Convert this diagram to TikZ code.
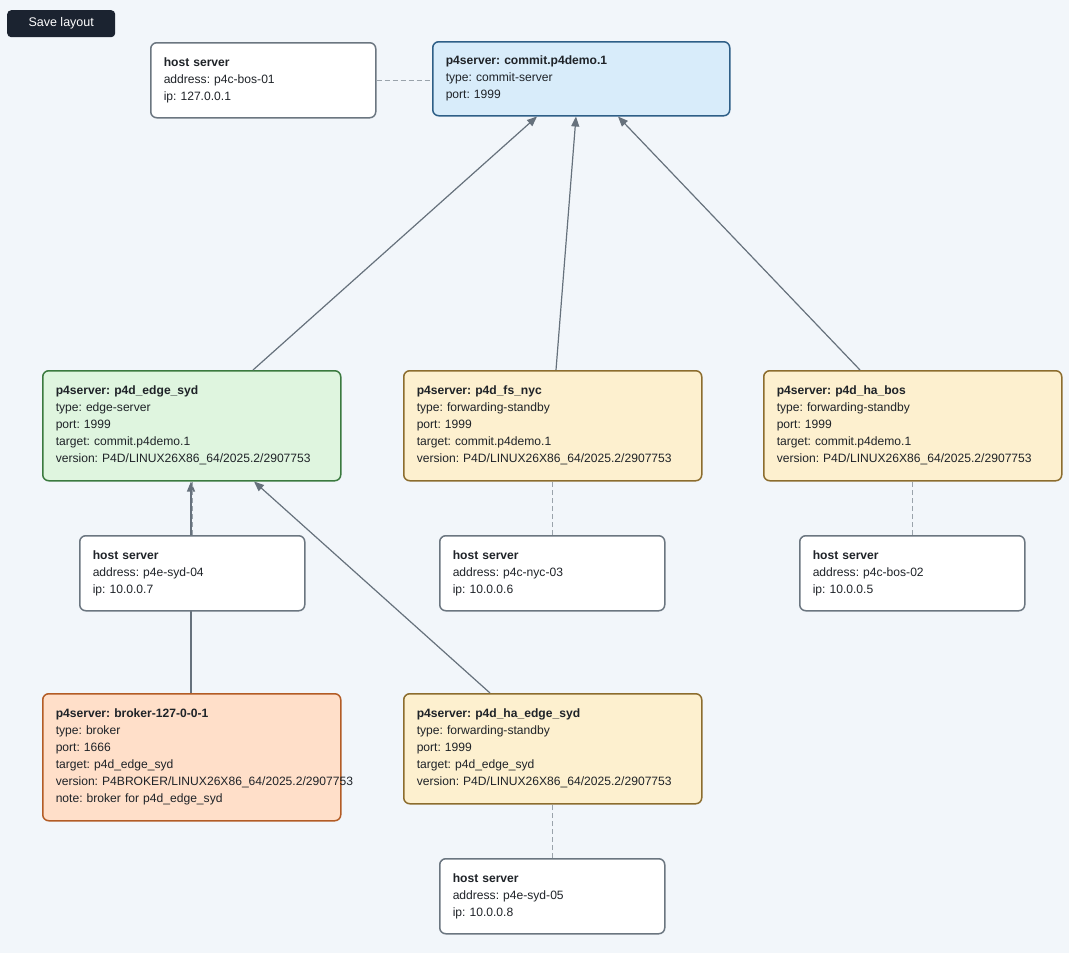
\documentclass[tikz,border=0pt]{standalone}
\usepackage{fontspec}
\setmainfont{Liberation Sans}
\usetikzlibrary{arrows.meta,calc}
\frenchspacing
\definecolor{bg}{HTML}{F2F6FA}
\definecolor{edgec}{HTML}{66717C}
\definecolor{dashc}{HTML}{9AA3AB}
\definecolor{hostbd}{HTML}{6B7680}
\definecolor{commitfill}{HTML}{D8ECFA}
\definecolor{commitbd}{HTML}{2E5F87}
\definecolor{edgefill}{HTML}{DFF5DF}
\definecolor{edgebd}{HTML}{3B7A3F}
\definecolor{fwdfill}{HTML}{FDF0CF}
\definecolor{fwdbd}{HTML}{8C6D2E}
\definecolor{brokfill}{HTML}{FFDFC9}
\definecolor{brokbd}{HTML}{B35C25}
\definecolor{txt}{HTML}{1F2328}
\definecolor{btn}{HTML}{1B2330}
\tikzset{
  boxbase/.style={draw, line width=1.5pt, rounded corners=6pt, anchor=north west,
    inner xsep=13pt, inner ysep=0pt, align=left, text=txt,
    font=\fontsize{12.1}{17}\selectfont\frenchspacing},
  hostbox/.style={boxbase, fill=white, draw=hostbd, text width=199pt, minimum height=75pt},
  p4box/.style={boxbase, text width=272pt, minimum height=110pt},
  commitbox/.style={boxbase, fill=commitfill, draw=commitbd, text width=271pt, minimum height=74pt},
  edgebox/.style={p4box, fill=edgefill, draw=edgebd},
  fwdbox/.style={p4box, fill=fwdfill, draw=fwdbd},
  brokbox/.style={p4box, fill=brokfill, draw=brokbd, minimum height=127pt},
  arr/.style={draw=edgec, line width=1.2pt, -{Triangle[length=10pt,width=8pt]}},
  dashlink/.style={draw=dashc, line width=1.4pt, dash pattern=on 5pt off 3pt},
}
\newcommand{\ttl}[1]{\textbf{#1}}
\begin{document}
\begin{tikzpicture}[x=1pt,y=-1pt]
\fill[bg] (0,0) rectangle (1069,953);
\useasboundingbox (0,0) rectangle (1069,953);

\node[fill=btn, rounded corners=4pt, anchor=north west, minimum width=108pt, minimum height=27pt,
  text=white, font=\fontsize{12.5}{14}\selectfont, inner sep=0pt] (save) at (7,10) {Save layout\hspace{10pt}};

% nodes
\node[hostbox] (host1) at (150,42) {\ttl{host server}\\address: p4c-bos-01\\ip: 127.0.0.1};
\node[commitbox] (commit) at (432,41) {\ttl{p4server: commit.p4demo.1}\\type: commit-server\\port: 1999};

\node[edgebox] (edgesyd) at (42,370) {\ttl{p4server: p4d\_edge\_syd}\\type: edge-server\\port: 1999\\target: commit.p4demo.1\\version: P4D/LINUX26X86\_64/2025.2/2907753};
\node[fwdbox] (fsnyc) at (403,370) {\ttl{p4server: p4d\_fs\_nyc}\\type: forwarding-standby\\port: 1999\\target: commit.p4demo.1\\version: P4D/LINUX26X86\_64/2025.2/2907753};
\node[fwdbox] (habos) at (763,370) {\ttl{p4server: p4d\_ha\_bos}\\type: forwarding-standby\\port: 1999\\target: commit.p4demo.1\\version: P4D/LINUX26X86\_64/2025.2/2907753};

\node[brokbox] (broker) at (42,693) {\ttl{p4server: broker-127-0-0-1}\\type: broker\\port: 1666\\target: p4d\_edge\_syd\\\makebox[0pt][l]{version: P4BROKER/LINUX26X86\_64/2025.2/2907753}\\note: broker for p4d\_edge\_syd};
\node[fwdbox] (haedge) at (403,693) {\ttl{p4server: p4d\_ha\_edge\_syd}\\type: forwarding-standby\\port: 1999\\target: p4d\_edge\_syd\\version: P4D/LINUX26X86\_64/2025.2/2907753};

% broker -> edge (passes behind host box)
\path[arr] ([xshift=149pt]broker.north west) -- ([xshift=149pt]edgesyd.south west);

\node[hostbox] (host4) at (79,535) {\ttl{host server}\\address: p4e-syd-04\\ip: 10.0.0.7};
\node[hostbox] (host3) at (439,535) {\ttl{host server}\\address: p4c-nyc-03\\ip: 10.0.0.6};
\node[hostbox] (host2) at (799,535) {\ttl{host server}\\address: p4c-bos-02\\ip: 10.0.0.5};
\node[hostbox] (host5) at (439,858) {\ttl{host server}\\address: p4e-syd-05\\ip: 10.0.0.8};

% dashed host links
\path[dashlink] (host1.east) -- (host1.east -| commit.west);
\path[dashlink] (host4.north) -- (host4.north |- edgesyd.south);
\path[dashlink] (host3.north) -- (host3.north |- fsnyc.south);
\path[dashlink] (host2.north) -- (host2.north |- habos.south);
\path[dashlink] (host5.north) -- (host5.north |- haedge.south);

% arrows
\path[arr] ([xshift=211pt]edgesyd.north west) -- ([xshift=105pt]commit.south west);
\path[arr] ([xshift=153pt]fsnyc.north west) -- ([xshift=144pt]commit.south west);
\path[arr] ([xshift=97pt]habos.north west) -- ([xshift=186pt]commit.south west);
\path[arr] ([xshift=87pt]haedge.north west) -- ([xshift=212pt]edgesyd.south west);
\end{tikzpicture}
\end{document}
